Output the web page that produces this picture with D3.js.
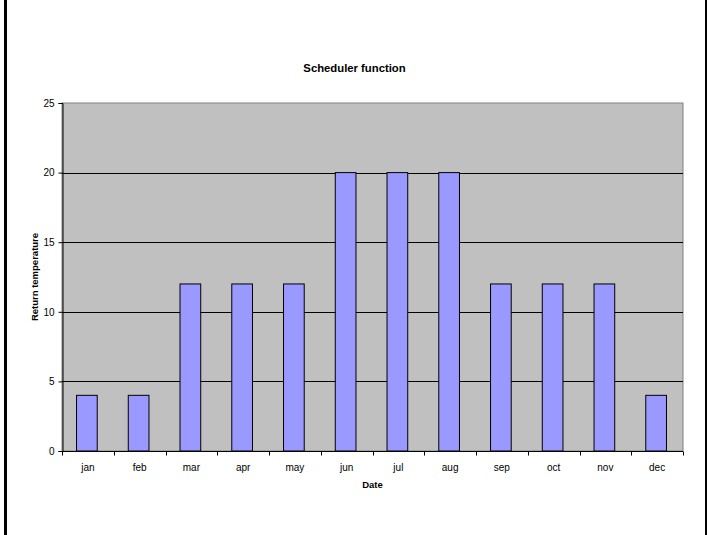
<!DOCTYPE html>
<html>
<head>
<meta charset="utf-8">
<script src="https://cdn.jsdelivr.net/npm/d3@7"></script>
<style>
  html, body { margin: 0; padding: 0; background: #fff; }
  svg { display: block; font-family: "Liberation Sans", Arial, sans-serif; }
</style>
</head>
<body>
<svg id="chart" width="707" height="535"></svg>
<script>
// Monthly return temperature set by the scheduler
const months = ["jan", "feb", "mar", "apr", "may", "jun", "jul", "aug", "sep", "oct", "nov", "dec"];
const returnTemp = [4, 4, 12, 12, 12, 20, 20, 20, 12, 12, 12, 4];
const yTicks = [0, 5, 10, 15, 20, 25];

const svg = d3.select("#chart");
const W = 707, H = 535;
const plot = { left: 62, right: 683, top: 103, bottom: 451 };

// side frame lines
svg.append("rect").attr("x", 4).attr("y", 0).attr("width", 3).attr("height", H).attr("fill", "#000");
svg.append("rect").attr("x", 705).attr("y", 0).attr("width", 2).attr("height", H).attr("fill", "#000");

const x = d3.scaleBand().domain(months).range([plot.left, plot.right]);
const y = d3.scaleLinear().domain([0, 25]).range([plot.bottom, plot.top]);

// plot background
svg.append("rect")
  .attr("x", plot.left).attr("y", plot.top)
  .attr("width", plot.right - plot.left).attr("height", plot.bottom - plot.top)
  .attr("fill", "#c0c0c0").attr("stroke", "#808080").attr("stroke-width", 1);

// horizontal gridlines
svg.append("g").selectAll("line")
  .data(yTicks.filter(t => t > 0 && t < 25))
  .join("line")
  .attr("x1", plot.left).attr("x2", plot.right)
  .attr("y1", d => Math.round(y(d)) + 0.5).attr("y2", d => Math.round(y(d)) + 0.5)
  .attr("stroke", "#000").attr("stroke-width", 1);

// bars
const bw = x.bandwidth() * 0.4;
svg.append("g").selectAll("rect")
  .data(months.map((m, i) => ({ m, v: returnTemp[i] })))
  .join("rect")
  .attr("x", d => x(d.m) + x.bandwidth() / 2 - bw / 2 - 1)
  .attr("y", d => y(d.v))
  .attr("width", bw)
  .attr("height", d => y(0) - y(d.v))
  .attr("fill", "#9999ff")
  .attr("stroke", "#000").attr("stroke-width", 1);

// y axis
const yAxis = d3.axisLeft(y).tickValues(yTicks).tickSize(4).tickPadding(4).tickFormat(d3.format("d"));
const gy = svg.append("g").attr("transform", `translate(${plot.left + 0.5},0)`).call(yAxis);
gy.select(".domain").attr("stroke", "#000");
gy.selectAll("text").attr("font-size", 10).attr("fill", "#000")
  .attr("font-family", "Liberation Sans, Arial, sans-serif");

// x axis: ticks sit between categories
const gx = svg.append("g").attr("transform", `translate(0,${plot.bottom + 0.5})`);
gx.append("line").attr("x1", plot.left).attr("x2", plot.right).attr("stroke", "#000");
const boundaries = months.map(m => x(m)).concat([plot.right]);
gx.selectAll(".tk").data(boundaries).join("line")
  .attr("class", "tk")
  .attr("x1", d => Math.round(d) + 0.5).attr("x2", d => Math.round(d) + 0.5)
  .attr("y1", 0).attr("y2", 4).attr("stroke", "#000");
gx.selectAll("text").data(months).join("text")
  .attr("x", d => x(d) + x.bandwidth() / 2)
  .attr("y", 19)
  .attr("text-anchor", "middle")
  .attr("font-size", 10)
  .text(d => d);

// titles
svg.append("text")
  .attr("x", W / 2 + 1).attr("y", 72)
  .attr("text-anchor", "middle").attr("font-size", 11.3).attr("font-weight", "bold")
  .text("Scheduler function");

svg.append("text")
  .attr("x", (plot.left + plot.right) / 2).attr("y", 488)
  .attr("text-anchor", "middle").attr("font-size", 9.5).attr("font-weight", "bold")
  .text("Date");

svg.append("text")
  .attr("transform", `translate(38,${(plot.top + plot.bottom) / 2}) rotate(-90)`)
  .attr("text-anchor", "middle").attr("font-size", 9.5).attr("font-weight", "bold")
  .text("Return temperature");
</script>
</body>
</html>
